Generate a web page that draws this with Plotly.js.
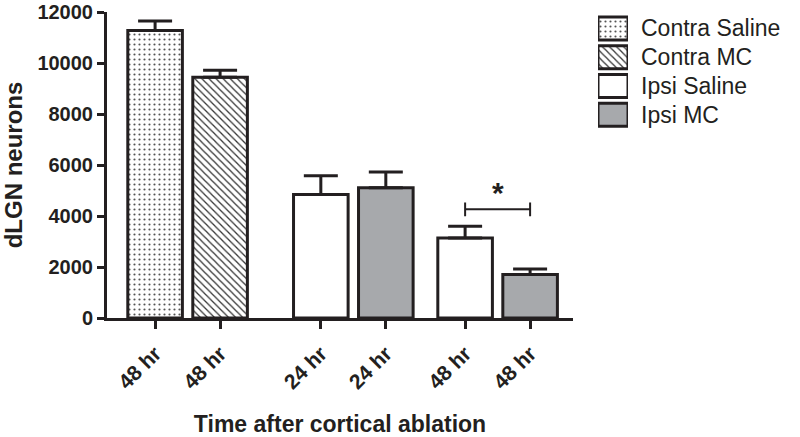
<!DOCTYPE html>
<html>
<head>
<meta charset="utf-8">
<script src="https://cdn.plot.ly/plotly-3.0.1.min.js"></script>
<style>html,body{margin:0;padding:0;background:#fff;}#chart{width:800px;height:437px;}</style>
</head>
<body>
<div id="chart"></div>
<script>
// ---- data ----
const groupNames = ["Contra Saline", "Contra MC", "Ipsi Saline", "Ipsi MC"];
const tickLabels = ["48 hr", "48 hr", "24 hr", "24 hr", "48 hr", "48 hr"];
const yTickVals = [0, 2000, 4000, 6000, 8000, 10000, 12000];
const yTickText = ["0", "2000", "4000", "6000", "8000", "10000", "12000"];
const contraSaline = [11270];
const contraSalineErr = [380];
const contraMC = [9440];
const contraMCErr = [280];
const ipsiSaline = [4840, 3135];
const ipsiSalineErr = [735, 465];
const ipsiMC = [5110, 1705];
const ipsiMCErr = [620, 215];
const sigBracketY = 4260;
const sigLabel = "*";

// ---- styling / layout ----
const pos = [0, 1, 2.55, 3.55, 4.77, 5.77];   // x positions of the six bars
const ink = "#231f20";
const grayFill = "#a7a9ac";
const fontFam = "'Liberation Sans', Arial, sans-serif";
const fills = ["#ffffff", "#ffffff", "#ffffff", grayFill];
const patterns = [
  {shape: ".", size: 5, solidity: 0.15, fgcolor: "#555555", bgcolor: "#ffffff", fillmode: "replace"},
  {shape: "\\", size: 5, solidity: 0.25, fgcolor: "#333333", bgcolor: "#ffffff", fillmode: "replace"},
  null,
  null
];

function markerFor(i) {
  const m = {color: fills[i], line: {color: ink, width: 3}};
  if (patterns[i]) m.pattern = patterns[i];
  return m;
}

function barTrace(i, xs, ys, errs) {
  return {
    type: "bar", name: groupNames[i], x: xs, y: ys, width: 0.84, showlegend: false,
    marker: markerFor(i),
    error_y: {type: "data", array: errs, arrayminus: errs.map(() => 0), symmetric: false,
              visible: true, color: ink, thickness: 3, width: 17},
    hoverinfo: "skip"
  };
}

// legend key: one swatch per group, labelled by the category axis on its right
function keyTrace(i) {
  return {
    type: "bar", orientation: "h", xaxis: "x2", yaxis: "y2", name: groupNames[i],
    y: [groupNames[i]], x: [1], width: 0.8, showlegend: false, hoverinfo: "skip",
    cliponaxis: false, marker: markerFor(i)
  };
}

const traces = [
  barTrace(0, [pos[0]], contraSaline, contraSalineErr),
  barTrace(1, [pos[1]], contraMC, contraMCErr),
  barTrace(2, [pos[2], pos[4]], ipsiSaline, ipsiSalineErr),
  barTrace(3, [pos[3], pos[5]], ipsiMC, ipsiMCErr),
  keyTrace(0), keyTrace(1), keyTrace(2), keyTrace(3)
];

const W = 800, L = 107, plotRight = 573, T = 12, B = 119;
const span = W - L;
const plotH = 437 - T - B;
const yBottomPx = 437 - B;
const layout = {
  width: 800, height: 437,
  margin: {l: L, r: 0, t: T, b: B},
  paper_bgcolor: "#ffffff", plot_bgcolor: "#ffffff",
  font: {family: fontFam, color: ink},
  showlegend: false,
  barmode: "overlay",
  xaxis: {
    domain: [0, (plotRight - L) / span],
    range: [-0.74, 6.43],
    showgrid: false, zeroline: false,
    showline: true, linecolor: ink, linewidth: 3,
    ticks: "outside", ticklen: 8, tickwidth: 3, tickcolor: ink,
    tickvals: pos, ticktext: tickLabels, tickangle: -45, ticklabelstandoff: 4,
    tickfont: {size: 21, family: fontFam, weight: "bold", color: ink},
    title: {text: "Time after cortical ablation", standoff: 24,
            font: {size: 23, family: fontFam, weight: "bold", color: ink}}
  },
  yaxis: {
    range: [0, 12000],
    showgrid: false, zeroline: false,
    showline: true, linecolor: ink, linewidth: 3,
    ticks: "outside", ticklen: 7, tickwidth: 3, tickcolor: ink,
    tickvals: yTickVals, ticktext: yTickText,
    tickfont: {size: 20, family: fontFam, weight: "bold", color: ink},
    title: {text: "dLGN neurons", standoff: 12,
            font: {size: 24, family: fontFam, weight: "bold", color: ink}}
  },
  xaxis2: {
    domain: [(598 - L) / span, (628 - L) / span], range: [0, 1], anchor: "y2",
    showgrid: false, zeroline: false, showline: false, showticklabels: false, ticks: "", fixedrange: true
  },
  yaxis2: {
    domain: [(yBottomPx - 129) / plotH, Math.min(1, (yBottomPx - 14) / plotH)], anchor: "x2", side: "right",
    autorange: "reversed", type: "category", categoryorder: "array", categoryarray: groupNames,
    showgrid: false, zeroline: false, showline: false, ticks: "", ticklabelstandoff: 12,
    tickfont: {size: 23, family: fontFam, color: ink}
  },
  shapes: [
    {type: "line", xref: "x", yref: "y", x0: pos[4], x1: pos[5], y0: sigBracketY, y1: sigBracketY, line: {color: ink, width: 2}},
    {type: "line", xref: "x", yref: "y", x0: pos[4], x1: pos[4], y0: sigBracketY - 270, y1: sigBracketY + 270, line: {color: ink, width: 2}},
    {type: "line", xref: "x", yref: "y", x0: pos[5], x1: pos[5], y0: sigBracketY - 270, y1: sigBracketY + 270, line: {color: ink, width: 2}}
  ],
  annotations: [
    {xref: "x", yref: "y", x: (pos[4] + pos[5]) / 2, y: sigBracketY, text: sigLabel, showarrow: false,
     yanchor: "bottom", yshift: -2, font: {size: 30, family: fontFam, weight: "bold", color: ink}}
  ]
};

Plotly.newPlot("chart", traces, layout, {displayModeBar: false, staticPlot: true});
</script>
</body>
</html>
